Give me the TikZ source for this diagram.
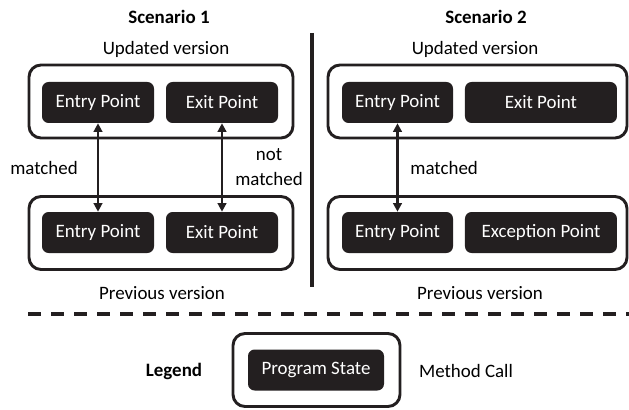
\documentclass[tikz,border=0pt]{standalone}
\usepackage{fontspec}
\setmainfont{Carlito}
\usetikzlibrary{arrows.meta,positioning}
\definecolor{boxblack}{HTML}{231F20}

\tikzset{
  pstate/.style={rectangle, rounded corners=5pt, fill=boxblack, text=white,
    minimum width=84pt, minimum height=30.75pt, inner sep=0pt},
  version/.style={rectangle, draw=boxblack, line width=2.2pt, rounded corners=9pt,
    minimum height=54.75pt, inner sep=0pt},
  match/.style={{Triangle[length=6.5pt,width=6.5pt]}-{Triangle[length=6.5pt,width=6.5pt]},
    line width=1.9pt, draw=boxblack},
  vtext/.style={inner sep=0pt, align=center},
  vhead/.style={vtext, font=\fontsize{14.2}{18.75}\selectfont\bfseries},
}

\begin{document}
\begin{tikzpicture}[x=0.75pt,y=-0.75pt,on grid,
    font=\fontsize{14.2}{18.75}\selectfont]
   \useasboundingbox (0,0) rectangle (629,410);

   % scenario 1
   \node[vhead] (s1) at (169,17) {Scenario 1};
   \node[vtext] (s1upd) at (166,49) {Updated version};
   \node[version,minimum width=198pt] (up1) at (161,101.5) {};
   \node[version,minimum width=198pt] (prev1) at (161,233) {};
   \node[pstate] (up1entry) at (98,102.5) {Entry Point};
   \node[pstate] (up1exit) [right=93pt of up1entry] {Exit Point};
   \node[pstate] (prev1entry) [below=97.5pt of up1entry] {Entry Point};
   \node[pstate] (prev1exit) [right=93pt of prev1entry] {Exit Point};
   \node[vtext] (s1prev) at (162,293) {Previous version};
   \draw[match] (up1entry) -- node[vtext,xshift=-40.5pt] {matched} (prev1entry);
   \draw[match] (up1exit) -- node[vtext,xshift=35.25pt] {not\\matched} (prev1exit);

   % separator
   \coordinate (septop) at (312,33);
   \coordinate (sepbot) at (312,287);
   \draw[line width=2.6pt,boxblack] (septop) -- (sepbot);

   % scenario 2
   \node[vhead] (s2) at (486,17) {Scenario 2};
   \node[vtext] (s2upd) at (475,49) {Updated version};
   \node[version,minimum width=224.25pt] (up2) at (477.5,101.5) {};
   \node[version,minimum width=224.25pt] (prev2) at (477.5,233) {};
   \node[pstate,minimum width=83.25pt] (up2entry) at (397.5,102.5) {Entry Point};
   \node[pstate,minimum width=114pt] (up2exit) [right=107.6pt of up2entry] {Exit Point};
   \node[pstate,minimum width=83.25pt] (prev2entry) [below=97.5pt of up2entry] {Entry Point};
   \node[pstate,minimum width=114pt] (prev2exc) [right=107.6pt of prev2entry] {Exception Point};
   \node[vtext] (s2prev) at (480,293) {Previous version};
   \draw[match] (up2entry) -- node[vtext,xshift=35pt] {matched} (prev2entry);

   % legend
   \coordinate (dashl) at (28,314);
   \coordinate (dashr) at (629,314);
   \draw[line width=2.4pt,boxblack,dash pattern=on 9.75pt off 7.5pt] (dashl) -- (dashr);
   \node[vhead] (leg) at (174,371) {Legend};
   \node[version,minimum width=125.25pt] (call) at (316.5,370) {};
   \node[pstate,minimum width=102pt] (pstate) at (316,370) {Program State};
   \node[vtext] (callt) at (466,371) {Method Call};
\end{tikzpicture}
\end{document}
